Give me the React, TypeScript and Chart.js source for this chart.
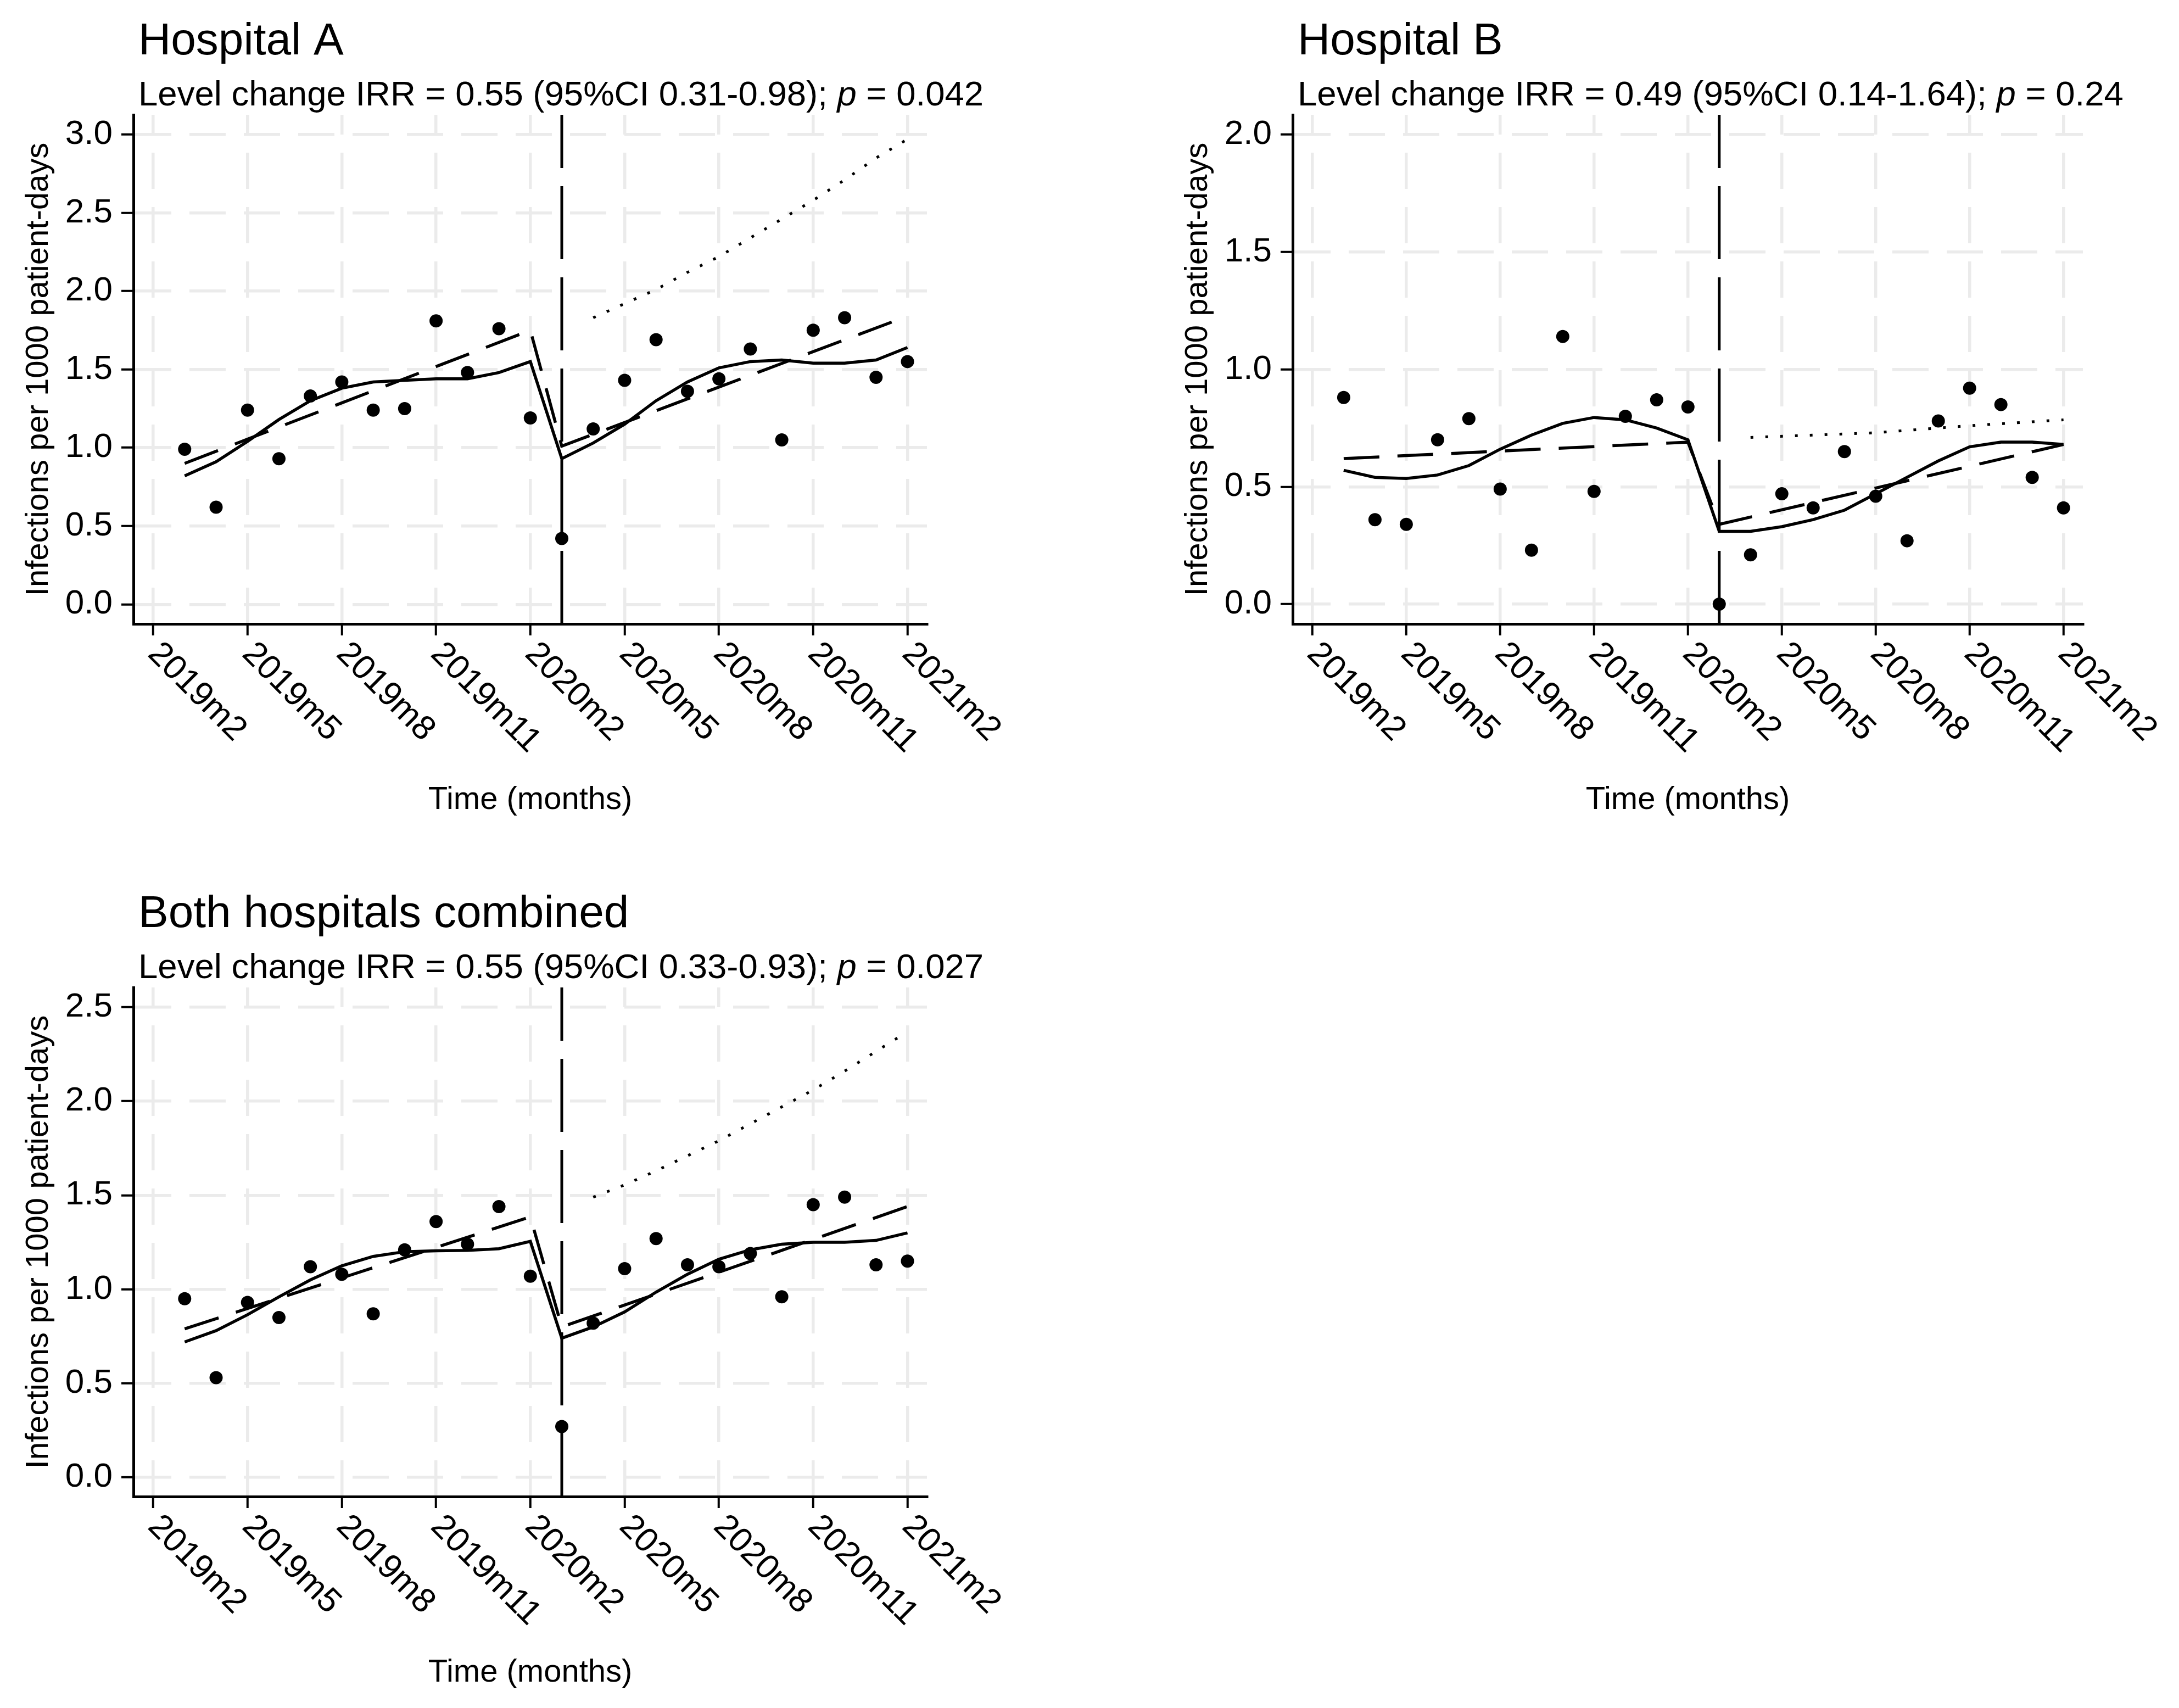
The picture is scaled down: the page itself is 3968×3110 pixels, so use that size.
import React, { useEffect, useRef } from 'react';
import { Chart, registerables } from 'chart.js';

Chart.register(...registerables);

const FONT = '"Liberation Sans", Arial, Helvetica, sans-serif';
const GRID = '#ebebeb';

// ---------- data ----------
const obsMonths = [
  '2019m3', '2019m4', '2019m5', '2019m6', '2019m7', '2019m8', '2019m9', '2019m10', '2019m11', '2019m12',
  '2020m1', '2020m2', '2020m3', '2020m4', '2020m5', '2020m6', '2020m7', '2020m8', '2020m9', '2020m10',
  '2020m11', '2020m12', '2021m1', '2021m2',
];
const tickMonths = ['2019m2', '2019m5', '2019m8', '2019m11', '2020m2', '2020m5', '2020m8', '2020m11', '2021m2'];
const interventionMonth = '2020m3';
const trendMonths = ['2019m3', '2020m2', '2020m3', '2021m2'];
const counterfactualMonths = [
  '2020m4', '2020m5', '2020m6', '2020m7', '2020m8', '2020m9', '2020m10', '2020m11', '2020m12', '2021m1', '2021m2',
];
const counterfactualMonthsB = ['2020m4', '2020m8', '2020m11', '2021m2'];

const hospA_observed = [0.99, 0.62, 1.24, 0.93, 1.33, 1.42, 1.24, 1.25, 1.81, 1.48, 1.76, 1.19, 0.42, 1.12, 1.43, 1.69, 1.36, 1.44, 1.63, 1.05, 1.75, 1.83, 1.45, 1.55];
const hospA_seasonal = [0.82, 0.91, 1.04, 1.18, 1.30, 1.38, 1.42, 1.43, 1.44, 1.44, 1.48, 1.55, 0.93, 1.03, 1.15, 1.30, 1.42, 1.51, 1.55, 1.56, 1.54, 1.54, 1.56, 1.64];
const hospA_trend = [0.90, 1.75, 1.01, 1.84];
const hospA_counterfactual = [1.83, 1.92, 2.01, 2.12, 2.22, 2.34, 2.46, 2.58, 2.71, 2.85, 2.97];
const hospA_yTicks = [0, 0.5, 1, 1.5, 2, 2.5, 3];

const hospB_observed = [0.88, 0.36, 0.34, 0.70, 0.79, 0.49, 0.23, 1.14, 0.48, 0.80, 0.87, 0.84, 0.00, 0.21, 0.47, 0.41, 0.65, 0.46, 0.27, 0.78, 0.92, 0.85, 0.54, 0.41];
const hospB_seasonal = [0.57, 0.54, 0.535, 0.55, 0.59, 0.66, 0.72, 0.77, 0.795, 0.785, 0.75, 0.70, 0.31, 0.31, 0.33, 0.36, 0.40, 0.47, 0.54, 0.61, 0.67, 0.69, 0.69, 0.68];
const hospB_trend = [0.62, 0.69, 0.34, 0.68];
const hospB_counterfactual = [0.71, 0.73, 0.76, 0.785];
const hospB_yTicks = [0, 0.5, 1, 1.5, 2];

const both_observed = [0.95, 0.53, 0.93, 0.85, 1.12, 1.08, 0.87, 1.21, 1.36, 1.24, 1.44, 1.07, 0.27, 0.82, 1.11, 1.27, 1.13, 1.12, 1.19, 0.96, 1.45, 1.49, 1.13, 1.15];
const both_seasonal = [0.72, 0.78, 0.865, 0.96, 1.05, 1.125, 1.175, 1.20, 1.205, 1.207, 1.216, 1.255, 0.74, 0.80, 0.88, 0.985, 1.08, 1.16, 1.21, 1.24, 1.25, 1.25, 1.26, 1.30];
const both_trend = [0.79, 1.385, 0.80, 1.44];
const both_counterfactual = [1.49, 1.555, 1.63, 1.71, 1.79, 1.88, 1.97, 2.06, 2.16, 2.265, 2.37];
const both_yTicks = [0, 0.5, 1, 1.5, 2, 2.5];

const titles = ['Hospital A', 'Hospital B', 'Both hospitals combined'];
const subtitlePre = [
  'Level change IRR = 0.55 (95%CI 0.31-0.98); ',
  'Level change IRR = 0.49 (95%CI 0.14-1.64); ',
  'Level change IRR = 0.55 (95%CI 0.33-0.93); ',
];
const pValues = ['0.042', '0.24', '0.027'];
const xTitle = 'Time (months)';
const yTitle = 'Infections per 1000 patient-days';

// ---------- helpers ----------
const monthIndex = (label: string) => {
  const [y, m] = label.split('m');
  return (Number(y) - 2019) * 12 + Number(m) - 1;
};
const pts = (months: string[], vals: number[]) => months.map((m, i) => ({ x: monthIndex(m), y: vals[i] }));

type PanelCfg = {
  left: number; top: number; w: number; h: number;
  padRight: number; padTop: number; yAxisW: number; xAxisH: number;
  yMin: number; yMax: number; yTicks: number[];
  observed: number[]; seasonal: number[]; trend: number[]; cf: number[]; cfMonths: string[];
  idx: number;
};

const PLOT_H = 927;

function Panel({ cfg }: { cfg: PanelCfg }) {
  const ref = useRef<HTMLCanvasElement>(null);
  useEffect(() => {
    const canvas = ref.current!;
    const decor = {
      id: 'decor',
      beforeDatasetsDraw(chart: any) {
        const { ctx, chartArea } = chart;
        const x = chart.scales.x.getPixelForValue(monthIndex(interventionMonth));
        ctx.save();
        ctx.strokeStyle = '#000';
        ctx.lineWidth = 5;
        ctx.setLineDash([133, 33]);
        ctx.beginPath();
        ctx.moveTo(x, chartArea.bottom);
        ctx.lineTo(x, chartArea.top);
        ctx.stroke();
        ctx.restore();
      },
      afterDraw(chart: any) {
        const { ctx, chartArea } = chart;
        ctx.save();
        ctx.fillStyle = '#000';
        // title
        ctx.textAlign = 'left';
        ctx.textBaseline = 'alphabetic';
        ctx.font = `82px ${FONT}`;
        ctx.fillText(titles[cfg.idx], chartArea.left + 9, chartArea.top - 110);
        // subtitle with italic p
        let sx = chartArea.left + 9;
        const sy = chartArea.top - 17.5;
        ctx.font = `63.5px ${FONT}`;
        ctx.fillText(subtitlePre[cfg.idx], sx, sy);
        sx += ctx.measureText(subtitlePre[cfg.idx]).width;
        ctx.font = `italic 63.5px ${FONT}`;
        ctx.fillText('p', sx, sy);
        sx += ctx.measureText('p').width;
        ctx.font = `63.5px ${FONT}`;
        ctx.fillText(' = ' + pValues[cfg.idx], sx, sy);
        // x tick labels rotated
        ctx.font = `62px ${FONT}`;
        ctx.textBaseline = 'middle';
        tickMonths.forEach((m) => {
          const x = chart.scales.x.getPixelForValue(monthIndex(m));
          ctx.save();
          ctx.translate(x, chartArea.bottom + 45);
          ctx.rotate(Math.PI / 4);
          ctx.fillText(m, 0, 0);
          ctx.restore();
        });
        // axis titles
        ctx.font = `58px ${FONT}`;
        ctx.textAlign = 'center';
        ctx.textBaseline = 'alphabetic';
        ctx.fillText(xTitle, (chartArea.left + chartArea.right) / 2, chartArea.bottom + 337);
        ctx.save();
        ctx.translate(chartArea.left - 156, (chartArea.top + chartArea.bottom) / 2);
        ctx.rotate(-Math.PI / 2);
        ctx.fillText(yTitle, 0, 0);
        ctx.restore();
        ctx.restore();
      },
    };

    const chart = new Chart(canvas, {
      type: 'line',
      data: {
        datasets: [
          {
            label: 'Observed',
            data: pts(obsMonths, cfg.observed),
            showLine: false,
            pointRadius: 12,
            pointBackgroundColor: '#000',
            pointBorderColor: '#000',
            pointBorderWidth: 0,
            borderColor: '#000',
          },
          {
            label: 'Seasonal model',
            data: pts(obsMonths, cfg.seasonal),
            borderColor: '#000',
            borderWidth: 5.5,
            pointRadius: 0,
            tension: 0,
          },
          {
            label: 'Trend model',
            data: pts(trendMonths, cfg.trend),
            borderColor: '#000',
            borderWidth: 5.5,
            borderDash: [65, 33],
            pointRadius: 0,
          },
          {
            label: 'Counterfactual',
            data: pts(cfg.cfMonths, cfg.cf),
            borderColor: '#000',
            borderWidth: 5,
            borderDash: [5, 22],
            pointRadius: 0,
          },
        ],
      } as any,
      options: {
        animation: false,
        responsive: false,
        events: [],
        layout: { padding: { left: 0, right: cfg.padRight, top: cfg.padTop, bottom: 0 } },
        plugins: { legend: { display: false }, title: { display: false }, tooltip: { enabled: false } },
        scales: {
          x: {
            type: 'linear',
            min: 0.37,
            max: 25.62,
            afterBuildTicks: (s: any) => { s.ticks = tickMonths.map((m) => ({ value: monthIndex(m) })); },
            afterFit: (s: any) => { s.height = cfg.xAxisH; },
            ticks: { display: false },
            grid: { color: GRID, lineWidth: 5.5, tickLength: 21, tickColor: '#000', tickWidth: 4, tickBorderDash: [] },
            border: { display: true, color: '#000', width: 5, dash: [66, 33], dashOffset: 66 - (PLOT_H % 99) },
          },
          y: {
            type: 'linear',
            min: cfg.yMin,
            max: cfg.yMax,
            afterBuildTicks: (s: any) => { s.ticks = cfg.yTicks.map((v) => ({ value: v })); },
            afterFit: (s: any) => { s.width = cfg.yAxisW; },
            ticks: {
              font: { family: FONT, size: 62 },
              color: '#000',
              padding: 16,
              autoSkip: false,
              callback: (v: any) => Number(v).toFixed(1),
            },
            grid: { color: GRID, lineWidth: 5.5, tickLength: 22, tickColor: '#000', tickWidth: 4, tickBorderDash: [] },
            border: { display: true, color: '#000', width: 5, dash: [66, 33], dashOffset: 0 },
          },
        },
      } as any,
      plugins: [decor],
    });
    return () => chart.destroy();
  }, []);
  return (
    <canvas
      ref={ref}
      width={cfg.w}
      height={cfg.h}
      style={{ position: 'absolute', left: cfg.left, top: cfg.top, width: cfg.w, height: cfg.h }}
    />
  );
}

const panels: PanelCfg[] = [
  {
    idx: 0, left: 0, top: 0, w: 1984, h: 1555, padRight: 296, padTop: 209, yAxisW: 243, xAxisH: 419,
    yMin: -0.125, yMax: 3.126, yTicks: hospA_yTicks,
    observed: hospA_observed, seasonal: hospA_seasonal, trend: hospA_trend, cf: hospA_counterfactual, cfMonths: counterfactualMonths,
  },
  {
    idx: 1, left: 2111, top: 0, w: 1857, h: 1555, padRight: 175, padTop: 209, yAxisW: 243, xAxisH: 419,
    yMin: -0.084, yMax: 2.084, yTicks: hospB_yTicks,
    observed: hospB_observed, seasonal: hospB_seasonal, trend: hospB_trend, cf: hospB_counterfactual, cfMonths: counterfactualMonthsB,
  },
  {
    idx: 2, left: 0, top: 1589, w: 1984, h: 1521, padRight: 296, padTop: 209, yAxisW: 243, xAxisH: 385,
    yMin: -0.102, yMax: 2.605, yTicks: both_yTicks,
    observed: both_observed, seasonal: both_seasonal, trend: both_trend, cf: both_counterfactual, cfMonths: counterfactualMonths,
  },
];

export default function App() {
  useEffect(() => {
    document.body.style.margin = '0';
  }, []);
  return (
    <div style={{ position: 'relative', width: 3968, height: 3110, background: '#fff', overflow: 'hidden' }}>
      {panels.map((p) => (
        <Panel key={p.idx} cfg={p} />
      ))}
    </div>
  );
}
